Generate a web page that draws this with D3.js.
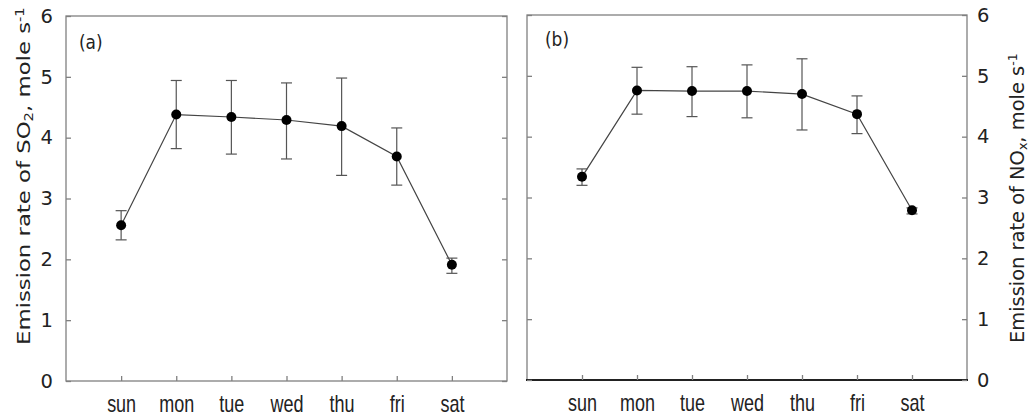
<!DOCTYPE html>
<html><head><meta charset="utf-8">
<script src="https://cdn.jsdelivr.net/npm/d3@7"></script>
<style>
body{margin:0;background:#fff;}
svg{display:block;}
</style></head>
<body>
<svg id="chart" width="1030" height="418"></svg>
<script>
const days = ["sun","mon","tue","wed","thu","fri","sat"];
const yTickValues = [0,1,2,3,4,5,6];
const so2Mean  = [2.56,4.38,4.34,4.29,4.19,3.69,1.91];
const so2Upper = [2.80,4.94,4.94,4.90,4.98,4.16,2.02];
const so2Lower = [2.32,3.82,3.73,3.65,3.38,3.22,1.77];
const noxMean  = [3.34,4.76,4.75,4.75,4.70,4.37,2.79];
const noxUpper = [3.47,5.14,5.15,5.18,5.28,4.67,2.83];
const noxLower = [3.20,4.37,4.33,4.31,4.11,4.05,2.73];

const svg = d3.select("#chart");
const frameColor = "#808080";
const numFont = "DejaVu Sans, Verdana, sans-serif";
const catFont = "Liberation Sans, Arial, sans-serif";

function panel(opts){
  const {left,right,top,bottom,mean,upper,lower,tag,tagX,tagY,labelSide} = opts;
  const x = d3.scalePoint().domain(days).range([left,right]).padding(1);
  const y = d3.scaleLinear().domain([0,6]).range([bottom,top]);
  const g = svg.append("g");

  g.append("rect").attr("x",left).attr("y",top).attr("width",right-left).attr("height",bottom-top)
    .attr("fill","none").attr("stroke",frameColor).attr("stroke-width",1.3);
  if (opts.darkBottom) {
    g.append("line").attr("x1",left-1).attr("x2",right+1).attr("y1",bottom).attr("y2",bottom)
      .attr("stroke","#222").attr("stroke-width",2.2);
  }

  const fmt = d3.format("d");
  const la = d3.axisLeft(y).tickValues(yTickValues).tickSizeInner(-5).tickSizeOuter(0).tickPadding(13)
    .tickFormat(labelSide === "left" ? fmt : "");
  const gl = g.append("g").attr("transform",`translate(${left},0)`).call(la);
  const ra = d3.axisRight(y).tickValues(yTickValues).tickSizeInner(-5).tickSizeOuter(0).tickPadding(10)
    .tickFormat(labelSide === "right" ? fmt : "");
  const gr = g.append("g").attr("transform",`translate(${right},0)`).call(ra);
  const ba = d3.axisBottom(x).tickSizeInner(-5).tickSizeOuter(0).tickPadding(0);
  const gb = g.append("g").attr("transform",`translate(0,${bottom})`).call(ba);

  [gl,gr,gb].forEach(a=>{
    a.select(".domain").remove();
    a.selectAll(".tick line").attr("stroke",frameColor).attr("stroke-width",1.3);
  });
  [gl,gr].forEach(a=>a.selectAll("text").attr("font-family",numFont).attr("font-size",19.5).attr("fill","#222"));
  gb.selectAll("text").attr("font-family",catFont).attr("font-size",18).attr("fill","#222")
    .attr("y",0).attr("dy","0").attr("transform","translate(0,30.5) scale(1,1.3)");

  const line = d3.line().x((d,i)=>x(days[i])).y(d=>y(d));
  g.append("path").datum(mean).attr("d",line).attr("fill","none").attr("stroke","#444").attr("stroke-width",1.2);

  const eb = g.append("g").attr("stroke","#555").attr("stroke-width",1.2);
  days.forEach((dd,i)=>{
    const cx = x(dd);
    eb.append("line").attr("x1",cx).attr("x2",cx).attr("y1",y(upper[i])).attr("y2",y(lower[i]));
    eb.append("line").attr("x1",cx-5.5).attr("x2",cx+5.5).attr("y1",y(upper[i])).attr("y2",y(upper[i]));
    eb.append("line").attr("x1",cx-5.5).attr("x2",cx+5.5).attr("y1",y(lower[i])).attr("y2",y(lower[i]));
  });

  g.selectAll("circle.pt").data(mean).join("circle").attr("class","pt")
    .attr("cx",(d,i)=>x(days[i])).attr("cy",d=>y(d)).attr("r",5).attr("fill","#000");

  g.append("text").attr("x",0).attr("y",0).attr("transform",`translate(${tagX},${tagY}) scale(1,1.15)`)
    .attr("font-family",numFont).attr("font-size",17).attr("fill","#222").text(tag);
  return g;
}

panel({left:66,right:507,top:16,bottom:381,mean:so2Mean,upper:so2Upper,lower:so2Lower,
  tag:"(a)",tagX:79,tagY:49,labelSide:"left"});
panel({left:527,right:967,top:15,bottom:380,mean:noxMean,upper:noxUpper,lower:noxLower,
  tag:"(b)",tagX:545,tagY:46,labelSide:"right",darkBottom:true});

function yTitle(bx, startY, size, targetLen, species, sub){
  const t = svg.append("text").attr("transform",`translate(${bx},${startY}) rotate(-90)`)
    .attr("text-anchor","start").attr("font-family",numFont).attr("font-size",size).attr("fill","#222");
  t.append("tspan").text("Emission rate of " + species);
  t.append("tspan").attr("font-size",size*0.65).attr("baseline-shift","-25%").text(sub);
  t.append("tspan").text(",\u00a0mole\u00a0s");
  t.append("tspan").attr("font-size",size*0.65).attr("baseline-shift","55%").text("-1");
  const len = t.node().getComputedTextLength();
  const sx = targetLen / len;
  t.attr("transform",`translate(${bx},${startY}) rotate(-90) scale(${sx},1)`);
}
yTitle(30, 345, 18, 338, "SO", "2");
yTitle(1024, 343, 20, 290, "NO", "x");
</script>
</body></html>
